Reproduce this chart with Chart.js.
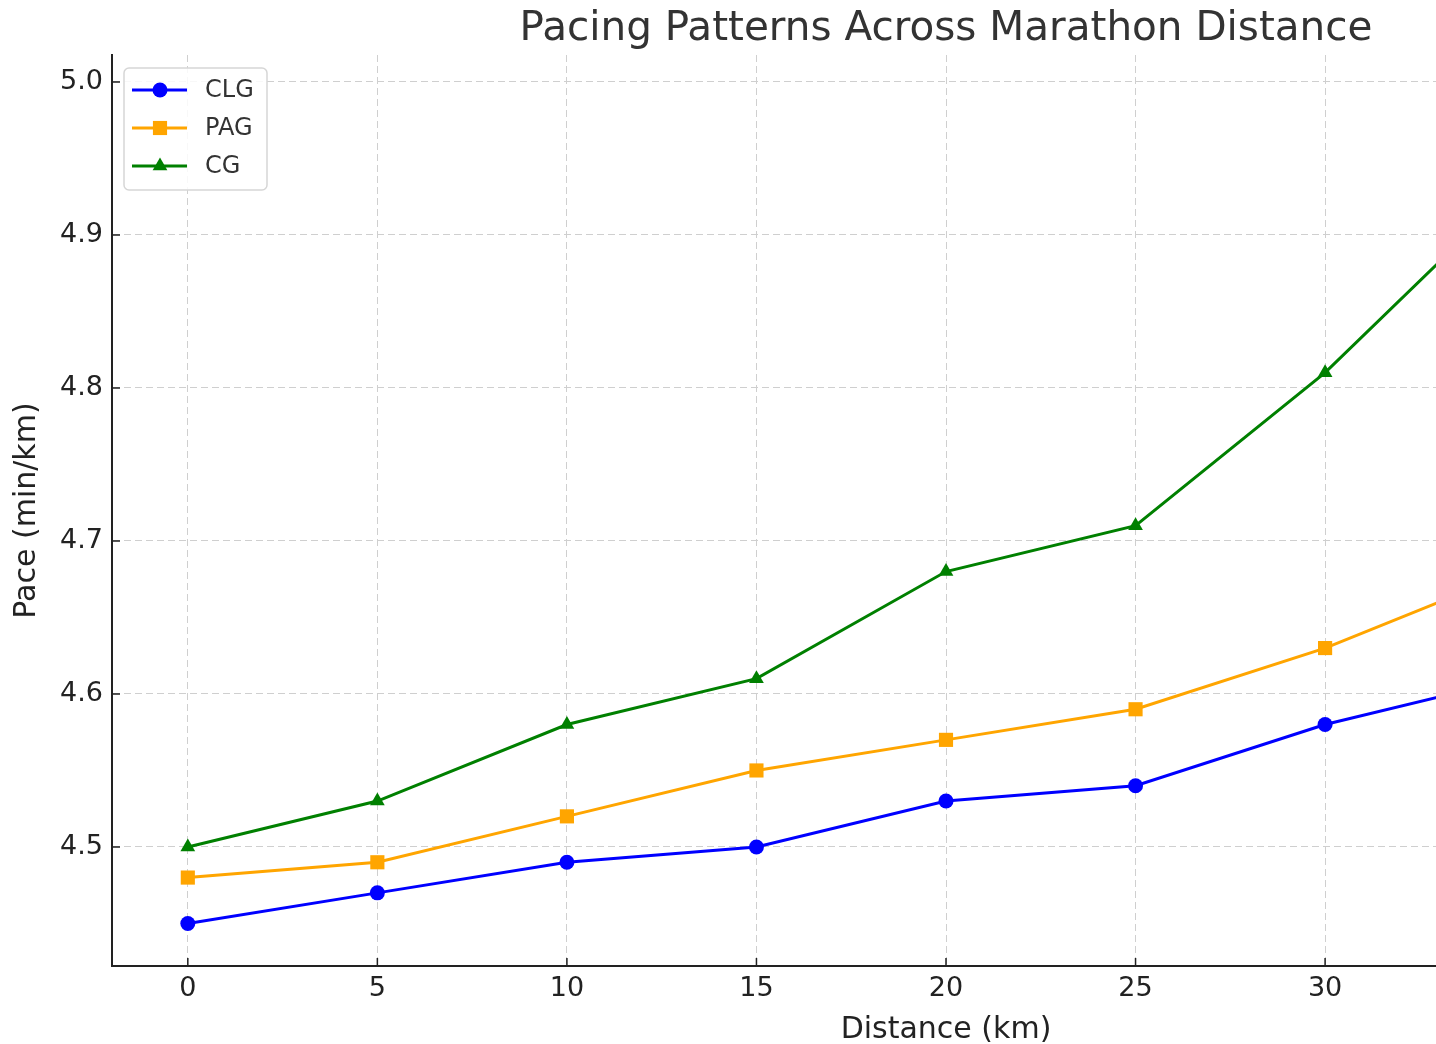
<!DOCTYPE html>
<html>
<head>
<meta charset="utf-8">
<title>Pacing Patterns Across Marathon Distance</title>
<script src="https://cdn.jsdelivr.net/npm/chart.js@4.4.1/dist/chart.umd.min.js"></script>
<style>
    html, body { margin: 0; padding: 0; background: #fff; overflow: hidden; }
    #wrap { width: 1436px; height: 1044px; overflow: hidden; position: relative; }
    #chart-pace { display: block; }
</style>
</head>
<body>
<div id="wrap">
    <canvas id="chart-pace" width="1892" height="1044"></canvas>
</div>
<script>
// distances in km, pace in min/km
const distances = [0, 5, 10, 15, 20, 25, 30, 35, 40];
const paceCLG = [4.45, 4.47, 4.49, 4.50, 4.53, 4.54, 4.58, 4.61, 4.63];
const pacePAG = [4.48, 4.49, 4.52, 4.55, 4.57, 4.59, 4.63, 4.68, 4.72];
const paceCG = [4.50, 4.53, 4.58, 4.61, 4.68, 4.71, 4.81, 4.93, 4.99];
const xTicks = [0, 5, 10, 15, 20, 25, 30, 35, 40];
const yTicks = [4.5, 4.6, 4.7, 4.8, 4.9, 5.0];

const FONT = "'DejaVu Sans', sans-serif";
const toPoints = (arr) => distances.map((d, i) => ({ x: d, y: arr[i] }));

const makeDataset = (label, arr, color, style, radius) => {
    return {
        label: label,
        data: toPoints(arr),
        borderColor: color,
        backgroundColor: color,
        borderWidth: 3,
        pointStyle: style,
        pointRadius: radius,
        pointHoverRadius: radius,
        pointBorderWidth: 0,
        tension: 0
    }
}

// legend box drawn inside the plot, like matplotlib's upper left
const insideLegend = {
    id: 'insideLegend',
    afterDraw(chart) {
        const ctx = chart.ctx;
        const area = chart.chartArea;
        const x0 = area.left + 12, y0 = area.top + 13;
        const w = 143, h = 122, r = 5;
        ctx.save();
        ctx.fillStyle = 'rgba(255,255,255,0.85)';
        ctx.strokeStyle = '#d6d6d6';
        ctx.lineWidth = 1.5;
        ctx.beginPath();
        ctx.roundRect(x0, y0, w, h, r);
        ctx.fill();
        ctx.stroke();
        chart.data.datasets.forEach((ds, i) => {
            const y = y0 + 22 + i * 38;
            ctx.strokeStyle = ds.borderColor;
            ctx.lineWidth = 3;
            ctx.beginPath();
            ctx.moveTo(x0 + 8, y);
            ctx.lineTo(x0 + 63, y);
            ctx.stroke();
            ctx.fillStyle = ds.backgroundColor;
            Chart.helpers.drawPoint(ctx, {
                pointStyle: ds.pointStyle,
                radius: ds.pointRadius,
                borderWidth: 0,
                rotation: 0
            }, x0 + 36, y);
            ctx.fillStyle = '#333';
            ctx.font = '24px ' + FONT;
            ctx.textBaseline = 'middle';
            ctx.textAlign = 'left';
            ctx.fillText(ds.label, x0 + 81, y + 1);
        });
        ctx.restore();
    }
}

// matplotlib style ticks pointing into the plot
const innerTicks = {
    id: 'innerTicks',
    afterDatasetsDraw(chart) {
        const ctx = chart.ctx;
        const xs = chart.scales.x, ys = chart.scales.y;
        ctx.save();
        ctx.strokeStyle = '#222';
        ctx.lineWidth = 1.5;
        ctx.beginPath();
        xTicks.forEach(v => {
            const px = xs.getPixelForValue(v);
            ctx.moveTo(px, ys.bottom);
            ctx.lineTo(px, ys.bottom - 8);
        });
        yTicks.forEach(v => {
            const py = ys.getPixelForValue(v);
            ctx.moveTo(xs.left, py);
            ctx.lineTo(xs.left + 8, py);
        });
        ctx.stroke();
        ctx.restore();
    }
}

const ctx = document.getElementById('chart-pace').getContext('2d');
new Chart(ctx, {
    type: 'line',
    data: {
        datasets: [
            makeDataset('CLG', paceCLG, '#0000ff', 'circle', 7.5),
            makeDataset('PAG', pacePAG, '#ffa500', 'rect', 10),
            makeDataset('CG', paceCG, '#008000', 'triangle', 8.5)
        ]
    },
    options: {
        responsive: false,
        devicePixelRatio: 1,
        animation: false,
        layout: { padding: 0 },
        plugins: {
            legend: { display: false },
            tooltip: { enabled: false },
            title: {
                display: true,
                text: 'Pacing Patterns Across Marathon Distance',
                color: '#333',
                font: { family: FONT, size: 40.5, weight: 'normal' },
                padding: { top: 5, bottom: 1.4 }
            }
        },
        scales: {
            x: {
                type: 'linear',
                min: -2,
                max: 42,
                afterBuildTicks: (scale) => { scale.ticks = xTicks.map(v => ({ value: v })); },
                afterFit: (scale) => { scale.height = 78; },
                ticks: {
                    color: '#222',
                    font: { family: FONT, size: 27 },
                    padding: 7,
                    maxRotation: 0
                },
                grid: { color: '#cfcfcf', lineWidth: 1, drawTicks: false },
                border: { display: true, color: '#222', width: 2, dash: [7, 4] },
                title: {
                    display: true,
                    text: 'Distance (km)',
                    color: '#222',
                    font: { family: FONT, size: 30 },
                    padding: { top: 0, bottom: -4 }
                }
            },
            y: {
                type: 'linear',
                min: 4.4222,
                max: 5.0176,
                afterBuildTicks: (scale) => { scale.ticks = yTicks.map(v => ({ value: v })); },
                afterFit: (scale) => { scale.width = 112; },
                ticks: {
                    color: '#222',
                    font: { family: FONT, size: 27 },
                    padding: 9,
                    callback: (v) => Number(v).toFixed(1)
                },
                grid: { color: '#cfcfcf', lineWidth: 1, drawTicks: false },
                border: { display: true, color: '#222', width: 2, dash: [7, 4] },
                title: {
                    display: true,
                    text: 'Pace (min/km)',
                    color: '#222',
                    font: { family: FONT, size: 30 },
                    padding: { top: 9, bottom: 0 }
                }
            },
            // empty spacer on the right so the plot box matches the original figure
            yRight: {
                type: 'linear',
                position: 'right',
                afterFit: (scale) => { scale.width = 112; },
                ticks: { display: false },
                grid: { display: false },
                border: { display: false }
            }
        }
    },
    plugins: [innerTicks, insideLegend]
});
</script>
</body>
</html>
